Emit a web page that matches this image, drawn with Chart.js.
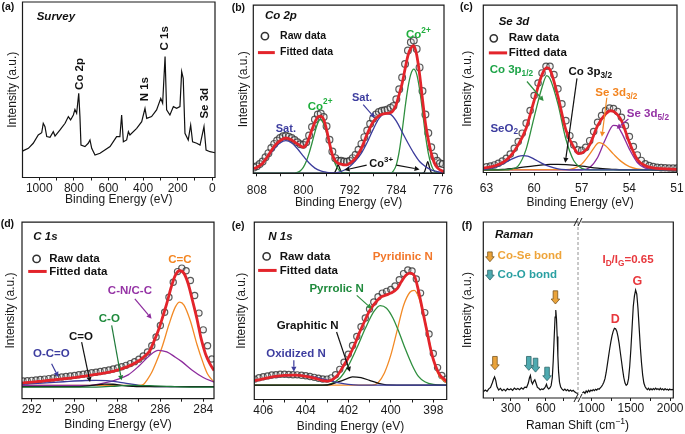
<!DOCTYPE html>
<html>
<head>
<meta charset="utf-8">
<script src="https://cdn.jsdelivr.net/npm/chart.js@4.4.1/dist/chart.umd.min.js"></script>
<style>
  body { margin: 0; background: #fff; width: 685px; height: 434px; overflow: hidden; position: relative; }
  canvas { position: absolute; }
</style>
</head>
<body>
<canvas id="pa"></canvas>
<canvas id="pb"></canvas>
<canvas id="pc"></canvas>
<canvas id="pd"></canvas>
<canvas id="pe"></canvas>
<canvas id="pf1"></canvas>
<canvas id="pf2"></canvas>
<script>
// ---- (a) survey ----
const surveyX = [1097, 1092, 1063, 1035, 1006, 986, 977, 967, 957, 938, 919, 909, 880, 851, 832, 819, 803, 794, 784, 772, 765, 759, 736, 717, 707, 697, 678, 649, 591, 553, 534, 524, 514, 495, 485, 476, 437, 408, 389, 379, 351, 322, 298, 287, 273, 264, 245, 225, 206, 187, 177, 168, 158, 139, 125, 114, 90, 71, 48, 36, 13, -16];
const surveyY = [15, 15.3, 16.6, 19.5, 24.2, 25.5, 30.9, 29, 23.3, 22.9, 26.1, 23.6, 27.1, 30.9, 34.7, 32.8, 35.6, 38.8, 36.6, 48, 34.7, 18.5, 17.6, 19.5, 21.4, 16.6, 12.8, 13.8, 17.6, 23.3, 23.3, 35.6, 20.4, 21.4, 26.1, 24.2, 28, 31.8, 39.4, 33.7, 34.7, 38.5, 45.1, 42.3, 68.9, 38.5, 35.6, 40.4, 39.4, 40.4, 60.3, 56.5, 25.2, 21.4, 29.9, 20.4, 19.5, 18.5, 29, 15.6, 14.7, 14.1];

// ---- (b) Co 2p ----
const bRawX = [808.5, 808, 807.5, 807, 806.5, 806, 805.5, 805, 804.5, 804, 803.5, 803, 802.5, 802, 801.5, 801, 800.5, 800, 799.5, 799, 798.5, 798, 797.5, 797, 796.5, 796, 795.5, 795, 794.5, 794, 793.5, 793, 792.5, 792, 791.5, 791, 790.5, 790, 789.5, 789, 788.5, 788, 787.5, 787, 786.5, 786, 785.5, 785, 784.5, 784, 783.5, 783, 782.5, 782, 781.5, 781, 780.5, 780, 779.5, 779, 778.5, 778, 777.5, 777, 776.5, 776];
const bRawY = [3.5, 4.2, 5.5, 7, 9.5, 12, 15, 17.5, 19.5, 21, 22, 22.3, 21.8, 21, 19.8, 18.5, 17.3, 17, 18.5, 22.5, 27.5, 32, 35, 35.5, 33.5, 28, 20, 13, 9, 7.5, 7.5, 7, 6.8, 7.5, 9, 11, 14, 17.5, 21.5, 25.5, 29.5, 32.5, 35, 36.5, 37.2, 37.5, 38, 39, 40, 44, 50, 57, 65, 73, 78, 79, 74, 63, 49, 35, 24, 15.5, 10, 7.5, 6, 5.5];
const bFitX = [808.6, 808, 807, 806, 805, 804, 803, 802, 801, 800, 799.5, 799, 798.5, 798, 797.5, 797, 796.5, 796, 795.5, 795, 794.5, 794, 793.5, 793, 792.5, 792, 791, 790, 789, 788, 787, 786, 785, 784.5, 784, 783.5, 783, 782.5, 782, 781.5, 781, 780.5, 780, 779.5, 779, 778.5, 778, 777.5, 777, 776, 775.8];
const bFitY = [2.8, 3.5, 6, 10.7, 16, 19.4, 21, 19.8, 17.5, 15.5, 17, 21, 26, 30.5, 33.5, 34, 32, 26, 18, 11, 7.5, 6, 5.5, 5, 5, 6, 9, 15, 23.5, 30.5, 34.2, 35.5, 36, 37.5, 41, 47, 53.5, 62, 70, 74.5, 76, 70.5, 59, 44, 30, 20, 12, 6.5, 3.5, 1.2, 1];
const bSat1X = [808.6, 808, 807, 806, 805, 804, 803, 802, 801, 800, 799, 798, 797, 796, 795, 794, 775.8];
const bSat1Y = [2.6, 3.1, 6.1, 10.2, 14.6, 18, 19.4, 18, 14.6, 10.2, 6.1, 3.1, 1.4, 0.6, 0.2, 0, 0];
const bSat2X = [808.6, 795, 794, 793, 792, 791, 790, 789, 788, 787, 786, 785, 784, 783, 782, 781, 780, 779, 778, 777, 776, 775.8];
const bSat2Y = [0, 0, 0.6, 1.8, 4, 7.5, 12, 18.5, 26, 32.5, 35.5, 35, 31, 24.5, 18, 12, 7, 4, 2, 1, 0.4, 0.3];
const bCo2aX = [808.6, 801.5, 801, 800.5, 800, 799.5, 799, 798.5, 798, 797.5, 797.1, 796.5, 796, 795.5, 795, 794.5, 794, 793.5, 793, 775.8];
const bCo2aY = [0, 0, 0.5, 1.5, 3.5, 7, 12, 18, 24.5, 30, 32, 29.5, 24, 17, 10.5, 5.5, 2.5, 0.9, 0.2, 0];
const bCo2bX = [808.6, 785, 784.5, 784, 783.5, 783, 782.5, 782, 781.5, 781, 780.5, 780, 779.5, 779, 778.5, 778, 777.5, 777, 775.8];
const bCo2bY = [0, 0, 1.5, 5, 13, 25, 39, 51, 59, 62, 59, 50, 37, 23, 12, 5, 1.5, 0.3, 0];
const bCo3aX = [808.6, 795, 794.6, 794.3, 794, 793.7, 793.4, 793, 775.8];
const bCo3aY = [0, 0, 0.5, 2.6, 5, 2.6, 0.5, 0, 0];
const bCo3bX = [808.6, 779.6, 779.2, 778.9, 778.6, 778.3, 778, 777.6, 775.8];
const bCo3bY = [0, 0, 0.6, 3.5, 7, 3.5, 0.6, 0, 0];

// ---- (c) Se 3d ----
const cRawX = [63, 62.75, 62.5, 62.25, 62, 61.75, 61.5, 61.25, 61, 60.75, 60.5, 60.25, 60, 59.75, 59.5, 59.25, 59, 58.75, 58.5, 58.25, 58, 57.75, 57.5, 57.25, 57, 56.75, 56.5, 56.25, 56, 55.75, 55.5, 55.25, 55, 54.75, 54.5, 54.25, 54, 53.75, 53.5, 53.25, 53, 52.75, 52.5, 52.25, 52, 51.75, 51.5, 51.25, 51];
const cRawY = [3.4, 3.9, 4.5, 5.5, 6.8, 8.5, 11, 14.5, 18.5, 23.5, 29.5, 37, 46, 53.5, 59.5, 63.5, 63.5, 58.5, 50, 41, 31, 22, 16.5, 13.5, 13.2, 15, 19, 24.5, 30, 34, 37, 38.5, 38.2, 36.5, 33, 28, 21.5, 15.5, 10.5, 7.2, 5.2, 4.1, 3.5, 3.1, 2.9, 2.8, 2.7, 2.6, 2.6];
const cFitX = [63.2, 63, 62.5, 62, 61.5, 61, 60.5, 60, 59.5, 59.2, 59, 58.5, 58, 57.5, 57.2, 57, 56.5, 56, 55.5, 55.2, 55, 54.5, 54, 53.5, 53, 52.5, 52, 51];
const cFitY = [2.7, 2.9, 3.9, 5.8, 9.7, 16.5, 26.5, 43, 58.5, 62.7, 61.5, 45.5, 25.5, 15, 11.3, 11.6, 16.5, 28, 35, 36.9, 36.5, 31, 18, 7.8, 4.1, 2.8, 2.3, 1.9];
const cSeO2X = [63.2, 63, 62.5, 62, 61.5, 61, 60.7, 60.4, 60, 59.5, 59, 58.5, 58, 57.5, 51];
const cSeO2Y = [1.9, 2, 3, 5, 7.5, 9.7, 10.1, 9.8, 8, 5.5, 3.5, 2.2, 1.7, 1.6, 1.6];
const cP12X = [63.2, 61.8, 61.5, 61, 60.5, 60, 59.5, 59.2, 59, 58.5, 58, 57.5, 57, 56.5, 51];
const cP12Y = [1.6, 1.6, 1.9, 4, 14, 33, 51, 57.9, 56, 41, 20, 7, 2.5, 1.6, 1.6];
const cP32X = [63.2, 62.5, 62, 61, 60, 59, 58.5, 58, 57, 56, 55, 54.5, 51];
const cP32Y = [1.6, 1.6, 1.8, 2.8, 4, 4.8, 4.9, 4.7, 3.8, 2.6, 1.9, 1.6, 1.6];
const cD32X = [63.2, 58, 57.5, 57, 56.5, 56, 55.9, 55.5, 55, 54.5, 54, 53.5, 53, 51];
const cD32Y = [1.6, 1.7, 2.5, 5, 11, 17.5, 17.9, 16, 11, 6.5, 3.5, 2.2, 1.7, 1.6];
const cD52X = [63.2, 57, 56.5, 56, 55.5, 55, 54.8, 54.5, 54, 53.5, 53, 52.5, 52, 51];
const cD52Y = [1.6, 1.6, 3, 9, 20, 28.2, 28, 24, 14, 6, 2.6, 1.8, 1.6, 1.6];

// ---- (d) C 1s ----
const dRawX = [292.4, 292.2, 292, 291.8, 291.6, 291.4, 291.2, 291, 290.8, 290.6, 290.4, 290.2, 290, 289.8, 289.6, 289.4, 289.2, 289, 288.8, 288.6, 288.4, 288.2, 288, 287.8, 287.6, 287.4, 287.2, 287, 286.8, 286.6, 286.4, 286.2, 286, 285.8, 285.6, 285.4, 285.2, 285, 284.8, 284.6, 284.4, 284.2, 284, 283.8, 283.6];
const dRawY = [10, 10.2, 10.4, 10.6, 10.9, 11.1, 11.4, 11.7, 12, 12.3, 12.6, 12.9, 13.2, 13.6, 13.9, 14.3, 14.7, 15, 15.4, 15.8, 16.3, 16.8, 17.4, 18.1, 18.9, 19.9, 21, 22.4, 24.2, 26.5, 30, 35, 41.5, 49, 57.5, 66, 72, 74, 72.5, 67, 58.5, 48.5, 39, 30, 22.5];
const dFitX = [292.45, 292, 291.5, 291, 290.5, 290, 289.5, 289, 288.5, 288, 287.5, 287, 286.7, 286.5, 286.3, 286.1, 285.9, 285.7, 285.5, 285.3, 285.1, 284.9, 284.7, 284.5, 284.3, 284.1, 283.9, 283.7, 283.5];
const dFitY = [9, 9.4, 10, 10.6, 11.3, 12, 12.8, 13.8, 14.8, 16.2, 18.3, 21.5, 24.5, 27, 32.5, 38.5, 46, 54, 63, 70, 72.5, 71, 65, 55.5, 45.5, 34, 25.5, 20, 16];
const dCCX = [292.45, 287, 286.8, 286.6, 286.4, 286.2, 285.9, 285.6, 285.3, 285.1, 284.9, 284.6, 284.3, 284, 283.8, 283.5];
const dCCY = [7.5, 7.5, 8, 11, 15, 20.5, 30, 42, 52, 54.7, 53, 44, 31, 20, 14, 9.5];
const dCNX = [292.45, 289.5, 289, 288.5, 288, 287.5, 287, 286.5, 286.1, 285.7, 285.3, 285, 284.5, 284, 283.5];
const dCNY = [7.5, 7.5, 8, 9.2, 11, 13.5, 18.5, 24.5, 27.4, 26.5, 23.5, 21, 16, 12, 9.4];
const dOCOX = [292.45, 291.5, 290.5, 289.5, 289, 288.5, 288, 287.5, 287, 286.5, 286, 283.5];
const dOCOY = [8.2, 8.8, 9.6, 10.3, 10.4, 10.2, 9.5, 8.5, 7.6, 7, 6.8, 6.8];
const dCdOX = [292.45, 290, 289.5, 289, 288.6, 288.2, 287.8, 287.3, 287, 283.5];
const dCdOY = [6.8, 6.8, 7.1, 7.8, 8.3, 8.2, 7.6, 7, 6.8, 6.8];
const dCOX = [292.45, 289, 288, 287.3, 286.5, 285.5, 284.5, 283.5];
const dCOY = [6.6, 6.6, 7.2, 7.6, 7.4, 6.9, 6.6, 6.6];

// ---- (e) N 1s ----
const eRawX = [406.4, 406.2, 406, 405.8, 405.6, 405.4, 405.2, 405, 404.8, 404.6, 404.4, 404.2, 404, 403.8, 403.6, 403.4, 403.2, 403, 402.8, 402.6, 402.4, 402.2, 402, 401.8, 401.6, 401.4, 401.2, 401, 400.8, 400.6, 400.4, 400.2, 400, 399.8, 399.6, 399.4, 399.2, 399, 398.8, 398.6, 398.4, 398.2, 398, 397.8, 397.6, 397.4];
const eRawY = [11.5, 12.3, 12.8, 13.3, 13.8, 14, 14.2, 14.2, 14.1, 14, 13.9, 13.7, 13.4, 13, 12.5, 12, 11.6, 11.5, 12.2, 14, 17, 21, 25.5, 30.5, 35.5, 41, 46, 51, 55, 58, 60, 61, 62, 64, 67.5, 71, 73, 72.5, 68, 60, 49, 37, 26, 18, 13.5, 11.5];
const eFitX = [406.42, 406, 405.5, 405, 404.5, 404, 403.5, 403.2, 403, 402.8, 402.5, 402.2, 402, 401.7, 401.5, 401.2, 401, 400.8, 400.5, 400.2, 400, 399.7, 399.5, 399.3, 399.1, 398.9, 398.7, 398.5, 398.3, 398.1, 397.9, 397.7, 397.37];
const eFitY = [10.7, 11.6, 12.9, 13.6, 13.7, 13.1, 11.8, 10.6, 10.4, 10.9, 13.8, 19.5, 23.5, 31, 37, 45, 50, 53.5, 57.5, 59, 60, 62.5, 66.5, 70, 71.3, 70, 61.5, 50, 38.5, 27, 19, 14, 10.3];
const ePyrdX = [406.42, 400.9, 400.6, 400.3, 400, 399.7, 399.4, 399.1, 398.9, 398.7, 398.4, 398.1, 397.8, 397.37];
const ePyrdY = [8.1, 8.1, 9.5, 15, 25, 39, 53, 60.5, 61.5, 58, 45, 28, 15, 9.2];
const ePyrlX = [406.42, 403.2, 402.8, 402.4, 402, 401.6, 401.2, 400.8, 400.5, 400.2, 399.9, 399.6, 399.3, 399, 398.7, 398.4, 398, 397.37];
const ePyrlY = [8.1, 8.1, 9, 12, 19, 29, 40, 49.5, 53, 51.5, 46, 37.5, 28, 19.5, 13, 10, 8.5, 8.1];
const eGraX = [406.42, 403.2, 402.8, 402.4, 402, 401.8, 401.4, 401, 400.6, 400.2, 397.37];
const eGraY = [8.1, 8.1, 8.6, 10.2, 12, 12.8, 12.3, 10.8, 9.2, 8.3, 8.1];
const eOxiX = [406.42, 406, 405.5, 405, 404.5, 404, 403.5, 403, 402.5, 402, 401.5, 397.37];
const eOxiY = [10.5, 11.5, 12.5, 13.3, 13.7, 13.5, 12.5, 11, 9.5, 8.5, 8.1, 8.1];

// ---- (f) Raman, two segments of the broken axis ----
const fLoX = [63, 80, 95, 110, 125, 140, 150, 160, 170, 180, 195, 210, 225, 240, 255, 270, 285, 300, 315, 330, 345, 360, 375, 390, 405, 420, 435, 450, 460, 468, 476, 486, 496, 506, 516, 528, 540, 552, 564, 576, 588, 598, 606, 614, 625, 636, 646, 656, 664, 672, 680, 686, 692, 698, 704, 710, 718, 728, 740, 752, 764, 776, 788, 800, 812, 824, 836, 848, 860, 877];
const fLoY = [3.5, 4.5, 3.8, 5.2, 6, 8.5, 10.5, 12, 10, 6.5, 4.5, 5.5, 4.2, 5, 4, 5.3, 4.6, 5.2, 4.3, 5.6, 4.8, 5.4, 4.7, 5.8, 5, 6.2, 6, 8.5, 11.5, 12.8, 9.5, 8, 9.5, 10.4, 8.5, 6, 5.5, 4.6, 5.2, 4.8, 5.5, 6.5, 7.8, 6, 5.2, 5.8, 7, 11.5, 21, 34, 46, 50, 45, 35, 24, 15, 9, 6.2, 5, 4.3, 5.1, 4.2, 4.8, 3.9, 4.5, 3.8, 4.4, 3.5, 3, 2.5];
const fHiX = [882, 900, 915, 930, 945, 960, 975, 990, 1005, 1020, 1035, 1050, 1065, 1080, 1095, 1110, 1125, 1140, 1155, 1170, 1185, 1200, 1215, 1230, 1245, 1260, 1275, 1290, 1305, 1320, 1335, 1350, 1365, 1380, 1395, 1410, 1425, 1440, 1455, 1470, 1485, 1500, 1515, 1530, 1545, 1560, 1575, 1590, 1605, 1620, 1635, 1650, 1665, 1680, 1695, 1710, 1725, 1740, 1755, 1770, 1785, 1800, 1815, 1830, 1845, 1860, 1875, 1890, 1905, 1920, 1935, 1950, 1965, 1980, 1995, 2010, 2025, 2040];
const fHiY = [2.8, 3.5, 2.6, 4, 3.2, 4.4, 3.6, 4.5, 4, 4.8, 4.2, 5, 4.5, 5.3, 5, 5.8, 6.5, 7.5, 9, 11, 14.5, 19, 23.5, 28, 32, 35.5, 38, 39.6, 39.3, 38, 35, 31, 26, 21, 16, 11.5, 8.5, 7.2, 7.8, 11, 18, 28, 40, 52, 58, 61.3, 59, 51, 40, 29, 20, 13, 8.5, 6.5, 5.5, 4.8, 5.5, 4.5, 5.3, 4.6, 5.4, 4.8, 5.6, 4.9, 5.3, 4.6, 5.5, 4.7, 5.2, 4.5, 5.3, 4.7, 5, 4.4, 5.1, 4.6, 4.9, 4.5];

// ---- tick values (all ticks) and the labelled ones ----
const aTicks = [0, 100, 200, 300, 400, 500, 600, 700, 800, 900, 1000], aMajor = [0, 200, 400, 600, 800, 1000];
const bTicks = [776, 780, 784, 788, 792, 796, 800, 804, 808], bMajor = [776, 784, 792, 800, 808];
const cTicks = [51, 52.5, 54, 55.5, 57, 58.5, 60, 61.5, 63], cMajor = [51, 54, 57, 60, 63];
const dTicks = [284, 285, 286, 287, 288, 289, 290, 291, 292], dMajor = [284, 286, 288, 290, 292];
const eTicks = [398, 399, 400, 401, 402, 403, 404, 405, 406], eMajor = [398, 400, 402, 404, 406];
const fLoTicks = [150, 300, 450, 600, 750], fLoMajor = [300, 600];
const fHiTicks = [1000, 1250, 1500, 1750, 2000], fHiMajor = [1000, 1500, 2000];

const FONT = '"Liberation Sans", Arial, Helvetica, sans-serif';
const INK = '#1a1a1a';
const RED = '#e3242b', BLUE = '#3c3c9c', GREEN = '#2f8f3f', ORANGE = '#f28a26', PURPLE = '#8d2c9d', BLACK = '#111';
const GOLD = ['#eaa33a', '#7a5520'], TEAL = ['#4eaab0', '#2c6468'];
const UP = -Math.PI / 2;

function pts(xs, ys) { return xs.map((x, i) => ({ x: x, y: ys[i] })); }

function curve(xs, ys, color, width, order) {
  return { data: pts(xs, ys), borderColor: color, borderWidth: width || 1.3, pointRadius: 0, fill: false,
           cubicInterpolationMode: 'monotone', order: order || 2 };
}
function trace(xs, ys) {
  return { data: pts(xs, ys), borderColor: BLACK, borderWidth: 1.2, pointRadius: 0, fill: false, tension: 0 };
}
function rings(xs, ys, r) {
  return { data: pts(xs, ys), showLine: false, pointRadius: r, pointBorderWidth: 1.2,
           pointBorderColor: 'rgba(50,50,50,0.8)', pointBackgroundColor: 'rgba(210,210,210,0.25)', order: 3 };
}

function rich(ctx, str, x, y, n) {
  const size = n.s || 11.5, style = n.f || 'bold';
  const parts = [];
  str.replace(/\^\{([^}]*)\}|_\{([^}]*)\}|[^^_]+/g, (m, sup, sub) => {
    parts.push(sup != null ? { t: sup, k: 1 } : sub != null ? { t: sub, k: -1 } : { t: m, k: 0 });
    return m;
  });
  const fontFor = k => style + ' ' + (k ? size * 0.72 : size) + 'px ' + FONT;
  let w = 0;
  parts.forEach(p => { ctx.font = fontFor(p.k); p.w = ctx.measureText(p.t).width; w += p.w; });
  ctx.save();
  ctx.translate(x, y);
  if (n.rot) ctx.rotate(n.rot);
  ctx.fillStyle = n.c || BLACK;
  ctx.textBaseline = 'middle';
  ctx.textAlign = 'left';
  let cx = n.a === 'l' ? 0 : -w / 2;
  parts.forEach(p => {
    ctx.font = fontFor(p.k);
    ctx.fillText(p.t, cx, p.k > 0 ? -size * 0.38 : p.k < 0 ? size * 0.3 : 0);
    cx += p.w;
  });
  ctx.restore();
}

function arrow(ctx, x1, y1, x2, y2, c) {
  const ang = Math.atan2(y2 - y1, x2 - x1), h = 5, hw = 2.6;
  const bx = x2 - h * Math.cos(ang), by = y2 - h * Math.sin(ang);
  ctx.strokeStyle = c; ctx.fillStyle = c; ctx.lineWidth = 1.2;
  ctx.beginPath(); ctx.moveTo(x1, y1); ctx.lineTo(bx, by); ctx.stroke();
  ctx.beginPath(); ctx.moveTo(x2, y2);
  ctx.lineTo(bx + hw * Math.sin(ang), by - hw * Math.cos(ang));
  ctx.lineTo(bx - hw * Math.sin(ang), by + hw * Math.cos(ang));
  ctx.closePath(); ctx.fill();
}

// fat down-pointing arrow used in the Raman panel
function block(ctx, x, yTop, yBot, c) {
  const bw = 2.3, hw = 4.3, hh = 5;
  ctx.beginPath();
  ctx.moveTo(x - bw, yTop); ctx.lineTo(x + bw, yTop); ctx.lineTo(x + bw, yBot - hh); ctx.lineTo(x + hw, yBot - hh);
  ctx.lineTo(x, yBot); ctx.lineTo(x - hw, yBot - hh); ctx.lineTo(x - bw, yBot - hh); ctx.closePath();
  ctx.fillStyle = c[0]; ctx.fill();
  ctx.strokeStyle = c[1]; ctx.lineWidth = 0.8; ctx.stroke();
}

function framePlugin(sides) {
  return {
    id: 'frame',
    afterDraw(chart) {
      const { ctx, chartArea: a } = chart;
      ctx.save();
      ctx.strokeStyle = INK; ctx.lineWidth = 1.2; ctx.lineCap = 'square';
      ctx.beginPath();
      if (sides.includes('t')) { ctx.moveTo(a.left, a.top); ctx.lineTo(a.right, a.top); }
      if (sides.includes('b')) { ctx.moveTo(a.left, a.bottom); ctx.lineTo(a.right, a.bottom); }
      if (sides.includes('l')) { ctx.moveTo(a.left, a.top); ctx.lineTo(a.left, a.bottom); }
      if (sides.includes('r')) { ctx.moveTo(a.right, a.top); ctx.lineTo(a.right, a.bottom); }
      ctx.stroke();
      ctx.restore();
    }
  };
}

function notesPlugin(items) {
  return {
    id: 'notes',
    afterDraw(chart) {
      const { ctx, chartArea: a, scales: { x, y } } = chart;
      const X = v => x.getPixelForValue(v), Y = v => y.getPixelForValue(v);
      ctx.save();
      items.forEach(n => {
        if (n.arrow) arrow(ctx, X(n.arrow[0]), Y(n.arrow[1]), X(n.arrow[2]), Y(n.arrow[3]), n.c);
        else if (n.block) block(ctx, X(n.block[0]), Y(n.block[1]), Y(n.block[2]), n.c);
        else if (n.ring) {
          ctx.beginPath(); ctx.arc(X(n.ring[0]), Y(n.ring[1]), 3.6, 0, Math.PI * 2);
          ctx.strokeStyle = '#333'; ctx.lineWidth = 1.6; ctx.stroke();
        } else if (n.swatch) {
          ctx.beginPath(); ctx.moveTo(X(n.swatch[0]), Y(n.swatch[2])); ctx.lineTo(X(n.swatch[1]), Y(n.swatch[2]));
          ctx.strokeStyle = RED; ctx.lineWidth = 3; ctx.stroke();
        } else if (n.brk) {
          ctx.strokeStyle = '#777'; ctx.lineWidth = 0.8; ctx.setLineDash([3, 2]);
          ctx.beginPath(); ctx.moveTo(a.right, a.top); ctx.lineTo(a.right, a.bottom); ctx.stroke();
          ctx.setLineDash([]);
          ctx.strokeStyle = INK; ctx.lineWidth = 1;
          [a.top, a.bottom].forEach(yy => [-2, 2].forEach(dx => {
            ctx.beginPath(); ctx.moveTo(a.right + dx - 2, yy + 4); ctx.lineTo(a.right + dx + 2, yy - 4); ctx.stroke();
          }));
        } else {
          rich(ctx, n.t, n.px ? n.x : X(n.x), n.px ? n.y : Y(n.y), n);
        }
      });
      ctx.restore();
    }
  };
}

// box: canvas [left, top, w, h]; g.f: plot frame [l, t, r, b]; lc/tc: tick label and
// axis title centre lines; yc: centre of the rotated y title (all page pixels)
function plot(id, box, g, o) {
  const cv = document.getElementById(id);
  cv.width = box[2]; cv.height = box[3];
  cv.style.left = box[0] + 'px'; cv.style.top = box[1] + 'px';
  const [fl, ft, fr, fb] = g.f;
  const lh = 12 * 1.2;
  const padL = g.yc ? g.yc - lh / 2 - box[0] : fl - box[0];
  const yW = fl - box[0] - padL;
  const axisH = g.tc - fb + lh / 2;
  const tickPad = g.lc - fb - 3 - lh / 2;
  const font = { family: FONT, size: 12 };
  return new Chart(cv, {
    type: 'line',
    data: { datasets: o.datasets },
    options: {
      responsive: false, animation: false, events: [],
      layout: { padding: { left: padL, top: ft - box[1], right: box[0] + box[2] - fr, bottom: box[1] + box[3] - fb - axisH } },
      plugins: { legend: { display: false }, tooltip: { enabled: false } },
      scales: {
        x: {
          type: 'linear', reverse: !!o.reverse, min: o.min, max: o.max,
          afterBuildTicks: s => { s.ticks = o.ticks.map(v => ({ value: v })); },
          afterFit: s => { s.height = axisH; },
          ticks: { callback: v => o.major.includes(v) ? String(v) : '', autoSkip: false, maxRotation: 0, minRotation: 0,
                   padding: tickPad, color: INK, font: font },
          grid: { drawOnChartArea: false, tickLength: 3, color: INK, lineWidth: 1 },
          border: { display: false },
          title: { display: !!o.xTitle, text: o.xTitle || '', padding: 0, color: INK, font: font }
        },
        y: {
          display: !!g.yc, min: 0, max: 100,
          afterFit: s => { s.width = yW; },
          ticks: { display: false }, grid: { display: false }, border: { display: false },
          title: { display: true, text: 'Intensity (a.u.)', padding: 0, color: INK, font: font }
        }
      }
    },
    plugins: [framePlugin(o.sides || 'ltrb'), notesPlugin(o.notes || [])]
  });
}

const BE = 'Binding Energy (eV)';

plot('pa', [0, 0, 230, 217], { f: [22.5, 2, 215, 177.5], lc: 188.8, tc: 200, yc: 12.5 }, {
  reverse: true, min: -15.6, max: 1097, ticks: aTicks, major: aMajor, xTitle: BE,
  datasets: [trace(surveyX, surveyY)],
  notes: [
    { t: '(a)', px: true, x: 1.5, y: 7.5, a: 'l', s: 10.5 },
    { t: 'Survey', x: 1015, y: 91.6, a: 'l', f: 'italic bold' },
    { t: 'Co 2p', x: 765, y: 59, rot: UP },
    { t: 'N 1s', x: 389, y: 50.3, rot: UP },
    { t: 'C 1s', x: 273, y: 79.3, rot: UP },
    { t: 'Se 3d', x: 42, y: 42.3, rot: UP }
  ]
});

plot('pb', [228, 0, 230, 217], { f: [253.3, 2, 444, 173.3], lc: 190.5, tc: 203, yc: 244 }, {
  reverse: true, min: 775.8, max: 808.6, ticks: bTicks, major: bMajor, xTitle: BE,
  datasets: [
    rings(bRawX, bRawY, 3.4),
    curve(bSat1X, bSat1Y, BLUE), curve(bSat2X, bSat2Y, BLUE),
    curve(bCo2aX, bCo2aY, GREEN), curve(bCo2bX, bCo2bY, GREEN),
    curve(bCo3aX, bCo3aY, BLACK), curve(bCo3bX, bCo3bY, BLACK),
    curve(bFitX, bFitY, RED, 2.8, 1)
  ],
  notes: [
    { t: '(b)', px: true, x: 3.7, y: 8, a: 'l', s: 10.5 },
    { t: 'Co 2p', x: 806.6, y: 93.6, a: 'l', f: 'italic bold' },
    { ring: [806.6, 81.6] }, { t: 'Raw data', x: 804, y: 81.6, a: 'l', s: 10.5 },
    { swatch: [807.8, 804.9, 71.8] }, { t: 'Fitted data', x: 804, y: 71.8, a: 'l', s: 10.5 },
    { t: 'Co^{2+}', x: 797.1, y: 39.8, c: '#1fae3c', s: 11.5 },
    { t: 'Co^{2+}', x: 780.2, y: 82.5, c: '#1fae3c', s: 11.5 },
    { t: 'Sat.', x: 803, y: 26.2, c: '#3d3d9f', s: 11 },
    { t: 'Sat.', x: 789.9, y: 44.7, c: '#3d3d9f', s: 11 },
    { arrow: [789.7, 40.8, 787.7, 33], c: BLUE },
    { t: 'Co^{3+}', x: 786.6, y: 5.8, s: 11 },
    { arrow: [789.1, 4.9, 792.9, 1.9], c: BLACK },
    { arrow: [784, 4.9, 780, 2.3], c: BLACK }
  ]
});

plot('pc', [455, 0, 230, 217], { f: [483.3, 2, 677, 172.5], lc: 188.3, tc: 202.5, yc: 468 }, {
  reverse: true, min: 51, max: 63.2, ticks: cTicks, major: cMajor, xTitle: BE,
  datasets: [
    rings(cRawX, cRawY, 3.2),
    curve(cSeO2X, cSeO2Y, BLUE), curve(cP12X, cP12Y, GREEN), curve(cP32X, cP32Y, BLACK),
    curve(cD32X, cD32Y, ORANGE), curve(cD52X, cD52Y, PURPLE),
    curve(cFitX, cFitY, RED, 2.8, 1)
  ],
  notes: [
    { t: '(c)', px: true, x: 5, y: 7.5, a: 'l', s: 10.5 },
    { t: 'Se 3d', x: 62.23, y: 90.3, a: 'l', f: 'italic bold' },
    { ring: [62.54, 80.2] }, { t: 'Raw data', x: 61.6, y: 80.2, a: 'l' },
    { swatch: [62.85, 61.7, 71.5] }, { t: 'Fitted data', x: 61.6, y: 71.5, a: 'l' },
    { t: 'Co 3p_{1/2}', x: 62.8, y: 61.2, a: 'l', c: '#1ea448' },
    { arrow: [60.45, 54.4, 59.4, 42.7], c: GREEN },
    { t: 'Co 3p_{3/2}', x: 57.83, y: 60.2, a: 'l' },
    { arrow: [57.3, 56.3, 58.04, 5.8], c: BLACK },
    { t: 'Se 3d_{3/2}', x: 56.15, y: 47.6, a: 'l', c: '#f3841f' },
    { arrow: [55.42, 44.7, 55.73, 21.4], c: ORANGE },
    { t: 'Se 3d_{5/2}', x: 54.16, y: 35, a: 'l', c: '#9533a5' },
    { arrow: [54.06, 32, 54.8, 26.2], c: PURPLE },
    { t: 'SeO_{2}', x: 62.75, y: 26.2, a: 'l', c: '#3d3d9f' }
  ]
});

plot('pd', [0, 217, 230, 217], { f: [22, 222, 214, 398.7], lc: 410, tc: 425, yc: 11 }, {
  reverse: true, min: 283.5, max: 292.45, ticks: dTicks, major: dMajor, xTitle: BE,
  datasets: [
    rings(dRawX, dRawY, 3.1),
    curve(dCOX, dCOY, '#1f7a3a'), curve(dCdOX, dCdOY, BLACK), curve(dOCOX, dOCOY, BLUE),
    curve(dCNX, dCNY, PURPLE), curve(dCCX, dCCY, ORANGE),
    curve(dFitX, dFitY, RED, 2.8, 1)
  ],
  notes: [
    { t: '(d)', px: true, x: 0.7, y: 7.5, a: 'l', s: 10.5 },
    { t: 'C 1s', x: 291.92, y: 91.5, a: 'l', f: 'italic bold' },
    { ring: [291.77, 79.2] }, { t: 'Raw data', x: 291.18, y: 79.2, a: 'l' },
    { swatch: [292.16, 291.3, 72.1] }, { t: 'Fitted data', x: 291.18, y: 72.1, a: 'l' },
    { t: 'C=C', x: 285.09, y: 78.7, c: '#f3841f' },
    { t: 'C-N/C-C', x: 287.42, y: 60.9, c: '#9533a5' },
    { arrow: [287.19, 56.6, 286.41, 45.3], c: PURPLE },
    { t: 'C-O', x: 288.38, y: 45.3, c: '#1f8a3c' },
    { arrow: [288.27, 41.5, 287.81, 10.4], c: '#1f7a3a' },
    { t: 'C=O', x: 289.7, y: 35.3 },
    { arrow: [289.67, 32.1, 289.28, 9.4], c: BLACK },
    { t: 'O-C=O', x: 291.08, y: 25.5, c: '#3d3d9f' },
    { arrow: [291.07, 19.8, 290.76, 12.3], c: BLUE }
  ]
});

plot('pe', [228, 217, 230, 217], { f: [254.3, 222, 446.7, 399.5], lc: 410.5, tc: 426.8, yc: 242 }, {
  reverse: true, min: 397.37, max: 406.42, ticks: eTicks, major: eMajor, xTitle: BE,
  datasets: [
    rings(eRawX, eRawY, 3.1),
    curve(eOxiX, eOxiY, BLUE), curve(eGraX, eGraY, BLACK),
    curve(ePyrlX, ePyrlY, GREEN), curve(ePyrdX, ePyrdY, ORANGE),
    curve(eFitX, eFitY, RED, 2.8, 1)
  ],
  notes: [
    { t: '(e)', px: true, x: 3.7, y: 9, a: 'l', s: 10.5 },
    { t: 'N 1s', x: 405.76, y: 91.6, a: 'l', f: 'italic bold' },
    { ring: [405.84, 80.7] }, { t: 'Raw data', x: 405.22, y: 80.7, a: 'l' },
    { swatch: [406.24, 405.37, 72.8] }, { t: 'Fitted data', x: 405.22, y: 72.8, a: 'l' },
    { t: 'Pyridinic N', x: 399.44, y: 80.3, c: '#f2772a' },
    { t: 'Pyrrolic N', x: 402.55, y: 62.5, c: '#1f8a3c' },
    { arrow: [401.6, 58.7, 400.9, 51.2], c: GREEN },
    { t: 'Graphitic N', x: 403.91, y: 41.8 },
    { arrow: [402.55, 38.1, 401.92, 15.6], c: BLACK },
    { t: 'Oxidized N', x: 404.46, y: 25.9, c: '#3d3d9f' },
    { arrow: [404.56, 22.1, 404.56, 15.6], c: BLUE }
  ]
});

plot('pf1', [455, 217, 185, 217], { f: [483.3, 222, 578, 398], lc: 408.5, tc: 426, yc: 468 }, {
  min: 63, max: 877, ticks: fLoTicks, major: fLoMajor, sides: 'ltb',
  datasets: [trace(fLoX, fLoY)],
  notes: [
    { t: '(f)', px: true, x: 6.7, y: 9, a: 'l', s: 10.5 },
    { t: 'Raman', x: 163, y: 92.5, a: 'l', f: 'italic bold' },
    { block: [120, 83, 77.4], c: GOLD }, { t: 'Co-Se bond', x: 186, y: 80.6, a: 'l', c: '#eea43a' },
    { block: [120, 72.6, 67], c: TEAL }, { t: 'Co-O bond', x: 186, y: 69.8, a: 'l', c: '#2aa0a2' },
    { block: [163, 23.6, 16], c: GOLD },
    { block: [454, 23.6, 15.7], c: TEAL },
    { block: [512, 22.6, 14.7], c: TEAL },
    { block: [611, 17.5, 9.8], c: TEAL },
    { block: [683, 60.9, 53.4], c: GOLD },
    { brk: true },
    { t: 'Raman Shift (cm^{\u22121})', px: true, x: 122.5, y: 209, f: 'normal', s: 12 }
  ]
});

plot('pf2', [578, 217, 107, 217], { f: [578, 222, 673.3, 398], lc: 408.5, tc: 426 }, {
  min: 878, max: 2040, ticks: fHiTicks, major: fHiMajor, sides: 'trb',
  datasets: [trace(fHiX, fHiY)],
  notes: [
    { t: 'I_{D}/I_{G}=0.65', x: 1463, y: 78.3, c: '#e8383d' },
    { t: 'D', x: 1301, y: 44.3, c: '#e8383d', s: 12.5 },
    { t: 'G', x: 1582, y: 66, c: '#e8383d', s: 12.5 }
  ]
});
</script>
</body>
</html>
